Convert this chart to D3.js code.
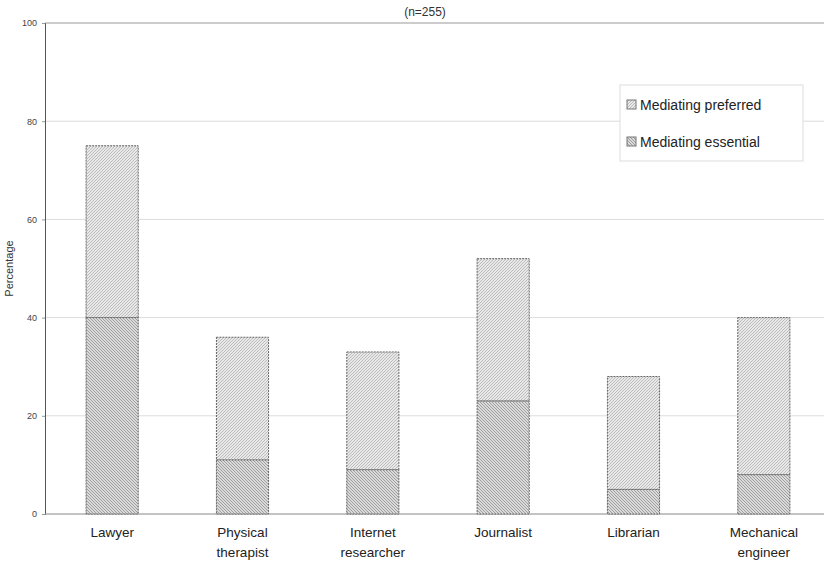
<!DOCTYPE html>
<html>
<head>
<meta charset="utf-8">
<script src="https://cdn.jsdelivr.net/npm/d3@7"></script>
<style>
  body { margin: 0; background: #fff; }
  svg { font-family: "Liberation Sans", Arial, sans-serif; }
</style>
</head>
<body>
<svg id="chart" width="824" height="579"></svg>
<script>
let categories = [['Lawyer'], ['Physical', 'therapist'], ['Internet', 'researcher'], ['Journalist'], ['Librarian'], ['Mechanical', 'engineer']]
let essential = [40, 11, 9, 23, 5, 8]
let preferredTotal = [75, 36, 33, 52, 28, 40]
let yTicks = [0, 20, 40, 60, 80, 100]
let seriesNames = ['Mediating preferred', 'Mediating essential']

let width = 824, height = 579
let margin = {top: 23, right: 0, bottom: 65, left: 45}

let svg = d3.select('#chart')

// patterns
let defs = svg.append('defs')
function addPattern(id, bg, line, dir) {
	let p = defs.append('pattern')
		.attr('id', id)
		.attr('patternUnits', 'userSpaceOnUse')
		.attr('width', 3).attr('height', 3)
	p.append('rect').attr('width', 3).attr('height', 3).attr('fill', bg)
	let d = dir > 0 ? 'M-1,1 L1,-1 M0,3 L3,0 M2,4 L4,2' : 'M-1,2 L1,4 M0,0 L3,3 M2,-1 L4,1'
	p.append('path').attr('d', d).attr('stroke', line).attr('stroke-width', 0.7)
}
addPattern('pref', '#e8e8e8', '#ababab', 1)
addPattern('ess', '#dadada', '#858585', -1)

let x = d3.scaleBand()
	.domain(d3.range(categories.length))
	.range([47, 829])
	.paddingInner(0.6).paddingOuter(0.3)

let y = d3.scaleLinear()
	.domain([0, 100])
	.range([height - margin.bottom, margin.top])

// gridlines
svg.append('g').selectAll('line').data(yTicks.filter(d => d > 0 && d < 100))
	.enter().append('line')
	.attr('x1', margin.left).attr('x2', width)
	.attr('y1', d => y(d)).attr('y2', d => y(d))
	.attr('stroke', '#dcdcdc').attr('stroke-width', 1)

svg.append('line')
	.attr('x1', margin.left).attr('x2', width)
	.attr('y1', y(100)).attr('y2', y(100))
	.attr('stroke', '#999')

// y axis
let axisY = d3.axisLeft(y).tickValues(yTicks).tickSize(3).tickPadding(5)
let gy = svg.append('g')
	.attr('transform', `translate(${margin.left},0)`)
	.call(axisY)
gy.select('.domain').attr('stroke', '#555')
gy.selectAll('.tick line').attr('stroke', '#999')
gy.selectAll('text').attr('font-size', 9).attr('fill', '#444')

// x baseline
svg.append('line')
	.attr('x1', margin.left).attr('x2', width)
	.attr('y1', y(0)).attr('y2', y(0))
	.attr('stroke', '#888')

// bars
let bars = svg.append('g')
bars.selectAll('.pref').data(preferredTotal).enter().append('rect')
	.attr('class', 'pref')
	.attr('x', (d, i) => x(i)).attr('width', x.bandwidth())
	.attr('y', d => y(d))
	.attr('height', (d, i) => y(essential[i]) - y(d))
	.attr('fill', 'url(#pref)')
	.attr('stroke', '#666').attr('stroke-width', 1).attr('stroke-dasharray', '2,1')

bars.selectAll('.ess').data(essential).enter().append('rect')
	.attr('class', 'ess')
	.attr('x', (d, i) => x(i)).attr('width', x.bandwidth())
	.attr('y', d => y(d))
	.attr('height', d => y(0) - y(d))
	.attr('fill', 'url(#ess)')
	.attr('stroke', '#666').attr('stroke-width', 1).attr('stroke-dasharray', '2,1')

// x labels
let xl = svg.append('g').selectAll('text').data(categories).enter().append('text')
	.attr('x', (d, i) => x(i) + x.bandwidth() / 2)
	.attr('y', y(0) + 23)
	.attr('text-anchor', 'middle')
	.attr('font-size', 13.5).attr('fill', '#222')
xl.selectAll('tspan').data(d => d).enter().append('tspan')
	.attr('x', function() { return this.parentNode.getAttribute('x') })
	.attr('dy', (d, i) => i == 0 ? 0 : 20)
	.text(d => d)

// y title
svg.append('text')
	.attr('transform', `translate(13, ${y(50)}) rotate(-90)`)
	.attr('text-anchor', 'middle')
	.attr('font-size', 11).attr('fill', '#333')
	.text('Percentage')

// title
svg.append('text')
	.attr('x', 425).attr('y', 16)
	.attr('text-anchor', 'middle')
	.attr('font-size', 12).attr('fill', '#333')
	.text('(n=255)')

// legend
let leg = svg.append('g').attr('transform', 'translate(620,85)')
leg.append('rect')
	.attr('width', 183).attr('height', 76)
	.attr('fill', '#fff').attr('stroke', '#ddd')
let fills = ['url(#pref)', 'url(#ess)']
seriesNames.forEach((n, i) => {
	leg.append('rect')
		.attr('x', 7).attr('y', 15 + i * 37)
		.attr('width', 9).attr('height', 9)
		.attr('fill', fills[i]).attr('stroke', '#777')
	leg.append('text')
		.attr('x', 20).attr('y', 25 + i * 37)
		.attr('font-size', 14).attr('fill', '#222')
		.text(n)
})
</script>
</body>
</html>
